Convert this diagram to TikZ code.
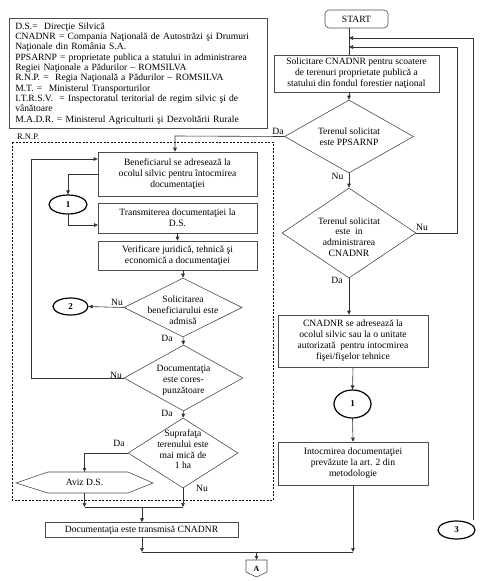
\documentclass[tikz,border=0pt]{standalone}
\usepackage{fontspec}
\setmainfont{Liberation Serif}
\usetikzlibrary{arrows.meta,shapes.geometric}
\begin{document}
\begin{tikzpicture}[x=1pt,y=-1pt,
  line/.style={draw=black!80, line width=0.6pt},
  arr/.style={line, -{Triangle[length=4pt,width=3.6pt]}},
  box/.style={draw=black!70, line width=0.6pt, inner sep=0pt, align=center, font=\fontsize{9.6}{11}\selectfont},
  dia/.style={draw=black!70, line width=0.6pt, diamond, inner sep=0pt},
  txt/.style={align=center, inner sep=0pt, font=\fontsize{9.6}{11.2}\selectfont},
  circ/.style={draw=black, line width=1.2pt, ellipse, inner sep=0pt, font=\bfseries\fontsize{9}{10}\selectfont},
  lbl/.style={inner sep=0pt, font=\fontsize{9.6}{11}\selectfont},
]
\useasboundingbox (0,0) rectangle (482,581);

% legend
\node[draw=black!70, line width=0.6pt, anchor=north west, minimum width=258pt, minimum height=110pt,
      text width=246pt, inner xsep=6pt, inner ysep=0pt, align=left,
      font=\fontsize{9.6}{10.35}\selectfont] (legend) at (9,18) {%
D.S.=~ Direcţie Silvică\\
CNADNR = Compania Naţională de Autostrăzi şi Drumuri\\
Naţionale din România S.A.\\
PPSARNP = proprietate publica a statului in administrarea\\
Regiei Naţionale a Pădurilor – ROMSILVA\\
R.N.P. =~ Regia Naţională a Pădurilor – ROMSILVA\\
M.T. =~ Ministerul Transporturilor\\
I.T.R.S.V.~ = Inspectoratul teritorial de regim silvic şi de\\
vânătoare\\
M.A.D.R. = Ministerul Agriculturii şi Dezvoltării Rurale};

% R.N.P. dashed area
\node[lbl, anchor=west, font=\fontsize{8.5}{10}\selectfont] (rnplbl) at (17,137) {R.N.P.};
\draw[black, line width=0.6pt, dash pattern=on 2pt off 1.5pt] (12,142) rectangle (273,500);

% right column
\node[box, rounded corners=4pt, minimum width=63pt, minimum height=18pt] (start) at (356.5,19) {START};
\node[box, minimum width=165pt, minimum height=37pt] (p1) at (356.5,73.5)
  {Solicitare CNADNR pentru scoatere\\de terenuri proprietate publică a\\statului din fondul forestier naţional};
\node[dia, minimum width=129pt, minimum height=73pt] (d1) at (349,136.5) {};
\node[txt] (d1t) at (349,137) {Terenul solicitat\\este PPSARNP};
\node[dia, minimum width=134pt, minimum height=90pt] (d2) at (349,233) {};
\node[txt, font=\fontsize{9.6}{10.8}\selectfont] (d2t) at (349,237) {Terenul solicitat\\este~ in\\administrarea\\CNADNR};
\node[box, minimum width=150pt, minimum height=52pt] (p3) at (353,341)
  {CNADNR se adresează la\\ocolul silvic sau la o unitate\\autorizată~ pentru intocmirea\\fişei/fişelor tehnice};
\node[circ, minimum width=37pt, minimum height=28pt] (c1r) at (352.5,404) {1};
\node[box, minimum width=150pt, minimum height=43pt] (p4) at (353,463.5)
  {Intocmirea documentaţiei\\prevăzute la art. 2 din\\metodologie};
\node[circ, minimum width=37pt, minimum height=18pt] (c3) at (456.5,530) {3};

% left column
\node[box, minimum width=159pt, minimum height=44pt] (b1) at (177.5,174)
  {Beneficiarul se adresează la\\ocolul silvic pentru întocmirea\\documentaţiei};
\node[circ, minimum width=38pt, minimum height=19pt] (c1l) at (68,204.5) {1};
\node[box, minimum width=159pt, minimum height=30pt] (b2) at (177.5,218)
  {Transmiterea documentaţiei la\\D.S.};
\node[box, minimum width=159pt, minimum height=29pt] (b3) at (177.5,255.5)
  {Verificare juridică, tehnică şi\\economică a documentaţiei};
\node[dia, minimum width=118pt, minimum height=59pt] (s1) at (183,307.5) {};
\node[txt] (s1t) at (183,310.5) {Solicitarea\\beneficiarului este\\admisă};
\node[circ, minimum width=35pt, minimum height=17pt] (c2) at (70.5,306.5) {2};
\node[dia, minimum width=119pt, minimum height=66pt] (s2) at (183.5,378) {};
\node[txt] (s2t) at (183.5,380.5) {Documentaţia\\este cores-\\punzătoare};
\node[dia, minimum width=110pt, minimum height=70pt] (s3) at (183,453) {};
\node[txt, font=\fontsize{9.6}{10.6}\selectfont] (s3t) at (183,449.5) {Suprafaţa\\terenului este\\mai mică de\\1 ha};
\draw[black!70, line width=0.6pt] (16,483) -- (48,472) -- (128,472) -- (153,483) -- (128,493) -- (48,493) -- cycle;
\node[txt, minimum width=137pt, minimum height=21pt] (aviz) at (84.5,482.5) {Aviz D.S.};
\node[box, minimum width=193pt, minimum height=15pt] (tb) at (141.5,530) {Documentaţia este transmisă CNADNR};
\draw[black!70, line width=0.6pt] (246,560) -- (267,560) -- (267,572) -- (256.5,577) -- (246,572) -- cycle;
\node[inner sep=0pt, minimum width=21pt, minimum height=17pt, font=\bfseries\fontsize{8}{9}\selectfont] (A) at (256.5,568.5) {A};

% coordinates
\coordinate (r3) at (473,38);
\coordinate (r2) at (457,47);
\coordinate (da1) at (175,136);
\coordinate (lp) at (31,159);
\coordinate (c1in) at (98,225);
\coordinate (jl) at (142,507);
\coordinate (jb) at (256.5,552);

% right connectors
\draw[line] (start.south -| d1.north) -- (p1.north -| d1.north);
\draw[arr] (p1.south -| d1.north) -- (d1.north);
\draw[arr] (d1.south) -- (d2.north);
\node[lbl] (nu1) at (337.5,176.5) {Nu};
\draw[arr] (d2.east) -| (r2) -- (r2 -| d1.north);
\node[lbl] (nu2) at (422,227.5) {Nu};
\draw[arr] (d2.south) -- (p3.north -| d2.south);
\node[lbl] (da2) at (337,280.5) {Da};
\draw[arr] (p3.south) -- (c1r.north);
\draw[arr] (c1r.south) -- (p4.north);
\draw[arr] (p4.south) -- (p4.south |- jb);
\draw[arr] (r3 |- c3.north) -- (r3) -- (r3 -| d1.north);
\draw[arr] (d1.west) -- (da1) -- (da1 |- b1.north);
\node[lbl] (da1l) at (278,131.5) {Da};

% left connectors
\draw[arr] (b1.west) -| (c1l.north);
\draw[arr] (c1l.south) |- (c1in);
\draw[arr] (b2.south) -- (b3.north);
\draw[arr] (b3.south -| s1.north) -- (s1.north);
\draw[arr] (s1.west) -- (c2.east);
\node[lbl] (nu3) at (117,302) {Nu};
\draw[arr] (s1.south) -- (s2.north);
\node[lbl] (da3) at (167,338.5) {Da};
\draw[arr] (s2.west) -| (lp) -- (lp -| b1.west);
\node[lbl] (nu4) at (116,375) {Nu};
\draw[arr] (s2.south) -- (s3.north);
\node[lbl] (da4) at (167,413) {Da};
\draw[arr] (s3.west) -| (aviz.north);
\node[lbl] (da5) at (119,443.5) {Da};
\draw[arr] (s3.south) -- (s3.south |- jl);
\node[lbl] (nu5) at (202,488.5) {Nu};
\draw[arr] (aviz.south) -- (aviz.south |- jl);
\draw[line] (aviz.south |- jl) -- (s3.south |- jl);
\draw[arr] (jl) -- (jl |- tb.north);
\draw[arr] (tb.south -| jl) -- (jl |- jb);
\draw[line] (jl |- jb) -- (jb -| p4.south);
\draw[arr] (jb) -- (A.north);
\end{tikzpicture}
\end{document}
